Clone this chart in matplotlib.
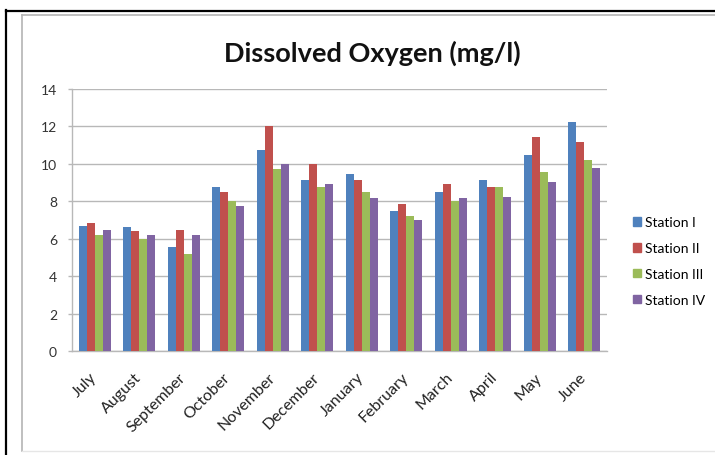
import matplotlib
matplotlib.use("Agg")
import matplotlib.pyplot as plt
import numpy as np
from matplotlib.patches import Rectangle
from matplotlib.lines import Line2D

months = ["July", "August", "September", "October", "November", "December",
          "January", "February", "March", "April", "May", "June"]
station_i = [6.7, 6.6, 5.55, 8.75, 10.75, 9.15, 9.45, 7.5, 8.5, 9.15, 10.45, 12.25]
station_ii = [6.85, 6.4, 6.45, 8.5, 12.0, 10.0, 9.15, 7.85, 8.9, 8.75, 11.45, 11.15]
station_iii = [6.2, 6.0, 5.2, 8.0, 9.75, 8.75, 8.5, 7.2, 8.0, 8.75, 9.55, 10.2]
station_iv = [6.45, 6.2, 6.2, 7.75, 10.0, 8.95, 8.15, 7.0, 8.15, 8.25, 9.05, 9.8]
series_names = ["Station I", "Station II", "Station III", "Station IV"]
colors = ["#4F81BD", "#C0504D", "#9BBB59", "#8064A2"]
yticks = [0, 2, 4, 6, 8, 10, 12, 14]

W, H = 715, 456
fig = plt.figure(figsize=(W / 100, H / 100), dpi=100)
fig.patch.set_facecolor("white")

font = ["Lato", "DejaVu Sans"]

# outer frame: black document border and grey chart-area border
fig.add_artist(Line2D([5.5 / W, 5.5 / W], [0, 1 - 11 / H], transform=fig.transFigure,
                      color="black", lw=1.6))
fig.add_artist(Line2D([5.5 / W, 1], [1 - 11.5 / H, 1 - 11.5 / H], transform=fig.transFigure,
                      color="black", lw=1.6))
fig.add_artist(Line2D([22 / W, 22 / W], [1 - 452 / H, 1 - 16 / H], transform=fig.transFigure,
                      color="#B4B4B4", lw=1.2))
fig.add_artist(Line2D([22 / W, 1], [1 - 16 / H, 1 - 16 / H], transform=fig.transFigure,
                      color="#B4B4B4", lw=1.2))
fig.add_artist(Line2D([22 / W, 1], [1 - 452 / H, 1 - 452 / H], transform=fig.transFigure,
                      color="#E6E6E6", lw=1.0))

# plot area
left, right, top, bottom = 72.3, 606.7, 90, 352
ax = fig.add_axes([left / W, 1 - bottom / H, (right - left) / W, (bottom - top) / H])

x = np.arange(len(months))
series = [station_i, station_ii, station_iii, station_iv]
bw = 0.18
for k, (vals, name, c) in enumerate(zip(series, series_names, colors)):
    ax.bar(x + (k - 1.5) * bw, vals, width=bw, color=c, label=name, zorder=3, linewidth=0)

ax.set_xlim(-0.5, len(months) - 0.5)
ax.set_ylim(0, 14)
ax.set_yticks(yticks)
ax.set_yticklabels([str(v) for v in yticks], family=font, fontsize=10, color="#333333")
ax.yaxis.grid(True, color="#B8B8B8", lw=1.0, zorder=0)
ax.set_axisbelow(True)
ax.tick_params(axis="y", length=3, width=1, color="#B8B8B8", pad=8)
ax.set_xticks(x)
ax.set_xticklabels(months, rotation=45, ha="right", va="center", rotation_mode="anchor",
                   family=font, fontsize=11.5, color="#222222")
ax.tick_params(axis="x", length=0, pad=17)
for s in ["top", "right"]:
    ax.spines[s].set_visible(False)
for s in ["left", "bottom"]:
    ax.spines[s].set_color("#B8B8B8")
    ax.spines[s].set_linewidth(1.0)

fig.text(0.5 * (226 + 518) / W, 1 - 53 / H, "Dissolved Oxygen (mg/l)", family=font,
         fontsize=19.5, fontweight="bold", ha="center", va="center", color="#111111")

handles = [Rectangle((0, 0), 1, 1, color=c) for c in colors]
fig.legend(handles, series_names, loc="center left", bbox_to_anchor=(626 / W, 1 - 262 / H),
           frameon=False, prop={"family": font, "size": 10}, handlelength=0.6,
           handleheight=0.6, handletextpad=0.3, labelspacing=1.0, borderpad=0)

fig.savefig("out.png", dpi=100, facecolor="white")
